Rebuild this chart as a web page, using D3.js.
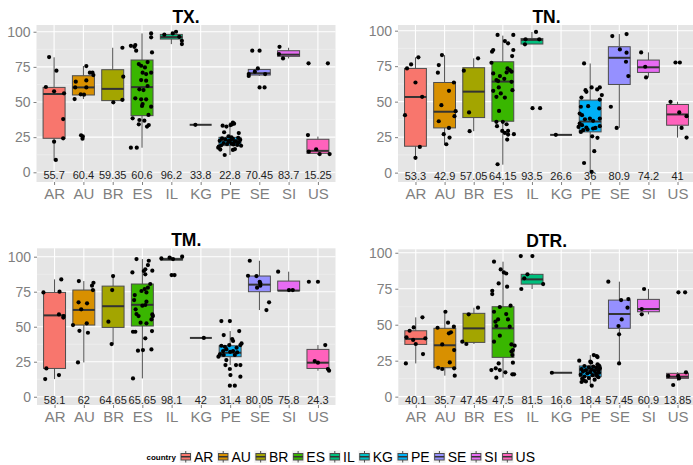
<!DOCTYPE html>
<html><head><meta charset="utf-8">
<script src="https://cdn.jsdelivr.net/npm/d3@7"></script>
<style>body{margin:0;background:#fff} text{font-family:"Liberation Sans",Arial,sans-serif}</style>
</head><body><svg id="c" width="693" height="465"></svg>
<script>
const countries = ["AR","AU","BR","ES","IL","KG","PE","SE","SI","US"];
const colors = ["#F8766D","#D89000","#A3A500","#39B600","#00BF7D","#00BFC4","#00B0F6","#9590FF","#E76BF3","#FF62BC"];
const panelTitles = ["TX.","TN.","TM.","DTR."];
const yTicks = [0,25,50,75,100];
const minorTicks = [12.5,37.5,62.5,87.5];

// median labels (also used as the median line)
const txMedians = [55.7,60.4,59.35,60.6,96.2,33.8,22.8,70.45,83.7,15.25];
const tnMedians = [53.3,42.9,57.05,64.15,93.5,26.6,36,80.9,74.2,41];
const tmMedians = [58.1,62,64.65,65.65,98.1,42,31.4,80.05,75.8,24.3];
const dtrMedians = [40.1,35.7,47.45,47.5,81.5,16.6,18.4,57.45,60.9,13.85];

// box stats: [lower whisker, q1, q3, upper whisker]
const txBoxes = [[8.3,24.2,60.4,81.8],[52.1,55,68.7,75.6],[49.8,51,73,88.6],[17.5,40.3,79.9,98.8],[91.2,94.8,98.1,100],[33.8,33.8,33.8,33.8],[12.3,19,24.9,35.5],[68.5,69.2,73.2,73.9],[81,82.5,86.5,88.6],[12.3,13.5,23.5,25.4]];
const tnBoxes = [[10.4,18.6,73.4,81.2],[19.8,31.5,63.5,82.8],[29.2,38.8,73.9,80.5],[5.6,36.2,78.1,96.5],[90.6,90.6,94.5,99.1],[26.6,26.6,26.6,26.6],[0.5,28.7,51.1,76.9],[31.5,62.1,88.7,97.6],[67.1,70.6,79.3,84.7],[24.7,33.4,48,49.9]];
const tmBoxes = [[12.6,20.2,74.5,83.8],[24.5,51.2,76.2,82.6],[37.6,49.5,79,86.2],[13.1,50.5,80.5,98.3],[97.6,97.6,98.8,100],[42,42,42,42],[22.6,28.6,36.4,46.9],[61.9,75,86.2,97.1],[75.7,75.7,82.6,89.3],[18.6,20.2,33.8,36.9]];
const dtrBoxes = [[23.1,36.3,45.8,55.1],[14.6,20.1,47.5,59],[36.6,37.7,57.9,61.8],[13.2,27.3,62.5,93.8],[74.8,78.2,85,85.6],[16.6,16.6,16.6,16.6],[7.6,13.9,21.3,28.9],[23.1,47.5,67.1,79.9],[57.2,59,67.6,74.8],[11.1,12.7,16.2,16.9]];

// jittered observations: [value, jitter as fraction of category step]
const txPoints = [
 [[82,-0.17],[72.3,0.08],[60.7,-0.28],[57.6,0],[56.2,0.34],[37.9,0.31],[24.2,0.31],[21.8,0],[8.8,0.06]],
 [[75.6,0.1],[70.9,0.22],[70.9,0.31],[69.2,0.34],[65.4,0.1],[64.5,-0.26],[60.4,-0.28],[60.4,0.1],[55.5,-0.09],[55.2,0.02],[52.1,-0.3],[26.3,-0.08],[25.5,-0.02],[23.9,-0.03]],
 [[88.6,0.33],[68,0.36],[51.6,0.33],[49.8,0.02]],
 [[98.8,0.31],[96,0.31],[90.5,-0.23],[90,-0.38],[89.3,-0.26],[86.5,-0.2],[85.3,0.34],[77,-0.11],[78.4,0.19],[75.8,-0.03],[74.6,0.1],[70.9,0.02],[70.9,0.31],[69.9,0.14],[65.6,-0.03],[65.2,0.14],[61.4,0.19],[58.5,0.05],[59,-0.09],[52.6,-0.23],[51.9,-0.03],[51.9,0.14],[48.6,0.02],[47.2,0],[46.7,0.31],[38.4,-0.32],[37.2,-0.09],[36.7,0.08],[40.8,0.22],[34.1,-0.11],[32.5,0.17],[33.6,0.23],[17.5,-0.38],[17.5,-0.18]],
 [[100,0.16],[98.8,0.05],[97.9,-0.24],[96.4,0.27],[93.6,0.36],[91.2,0.36]],
 [[33.8,-0.18]],
 [[12.3,-0.18],[15.9,0.1],[16.5,0.17],[17.5,-0.4],[18.2,-0.38],[18.9,0.38],[19.2,-0.3],[19.5,0.25],[20.1,-0.1],[20.5,0.05],[20.8,-0.22],[21.2,0.3],[21.5,0.15],[21.8,-0.05],[22.1,0.2],[22.4,-0.35],[22.7,0],[23.1,0.35],[23.4,-0.15],[23.8,0.1],[24.1,-0.27],[24.5,0.28],[24.9,0.05],[25.6,-0.05],[27.9,0.3],[28.5,-0.2],[32.5,-0.12],[33.2,-0.25],[33.6,0.02],[34.1,0.07],[34.6,0.14],[35.3,0.1],[16.2,-0.33],[19.8,0.12]],
 [[86.5,-0.24],[86.5,0.01],[73.9,-0.05],[71.6,-0.15],[69.9,0.2],[69.9,-0.36],[68.5,-0.36],[60.4,0.01],[60.4,0.18]],
 [[89.3,-0.31],[84.1,-0.33],[81,-0.19]],
 [[77.5,-0.32],[77.5,0.34],[26.5,-0.34],[16.4,-0.06],[14.7,-0.31],[13,0.06],[13,0.4]]
];
const tnPoints = [
 [[81.2,0.1],[76.2,-0.15],[73.4,-0.29],[63.5,0],[53.4,0.23],[40.5,-0.36],[18.1,0.15],[10.4,0]],
 [[82.8,-0.09],[75.8,-0.2],[70.4,-0.23],[63.5,0.32],[57.6,0.15],[47.5,-0.11],[43.3,0.38],[39.8,0.34],[36.2,-0.2],[31.5,0.15],[27.1,-0.03],[24.7,0.17],[20,0.06]],
 [[80.5,0.15],[71.8,-0.34],[42.4,-0.16],[29.2,-0.14]],
 [[97,-0.18],[97,0.36],[92.7,0.07],[91.1,0.18],[86.4,-0.33],[85.2,-0.37],[86.4,0.36],[82.1,0.32],[77.4,-0.39],[73.4,0.16],[72.2,0.24],[70.6,0.13],[69.9,-0.33],[68,-0.1],[71.1,0.3],[65.2,-0.22],[64.5,-0.16],[66.1,0.05],[64,0.3],[58.1,0.33],[57.6,-0.33],[60,-0.14],[55.8,-0.07],[53.4,-0.22],[52.9,0.07],[43.5,-0.13],[35.8,-0.22],[34.1,0.13],[35.8,0],[32.7,-0.2],[29.4,-0.02],[28,0.07],[29.4,0.18],[26.8,0.18],[27.1,0.38],[23.3,0.15],[5.9,-0.18]],
 [[93.9,-0.22],[90.4,-0.24],[99.1,0.14],[93.9,0.25],[45.4,0.02],[45.4,0.28]],
 [[26.6,-0.18]],
 [[76.9,-0.21],[58.1,-0.16],[56.9,-0.13],[60,0.33],[60,0.05],[58.6,0.24],[52.9,-0.3],[54.6,0.4],[51.5,0.33],[46.4,-0.32],[46.8,-0.07],[45.2,0.31],[41.6,-0.36],[40.5,-0.28],[37.6,-0.18],[38.1,-0.01],[36.5,0.1],[38.1,0.33],[34.6,-0.36],[33.4,-0.28],[31.8,-0.13],[32.2,-0.4],[31.1,0.1],[32.7,0.33],[29.9,-0.24],[30.4,-0.09],[31.5,0.18],[28.7,-0.32],[25.6,0.07],[24.5,0.25],[15.1,0.14],[6.8,-0.21],[0.5,0.05]],
 [[96.2,-0.24],[97.6,0.25],[86.8,0.02],[84.5,0.25],[78.1,0.23],[68,0.31],[46.4,-0.29],[31.5,-0.09]],
 [[84.7,-0.25],[74.6,-0.11],[67.1,-0.08]],
 [[77.6,-0.07],[77.6,0.08],[49.9,-0.24],[42.4,0.06],[39.8,0.31],[31.5,0.14],[24.7,0.31]]
];
const tmPoints = [
 [[83.8,0.23],[74.5,-0.38],[75,0.17],[58.8,0.15],[57.6,0.31],[56.5,0.3],[20.2,-0.28],[12.6,-0.32],[15.5,0.15]],
 [[82.6,-0.17],[81.4,0.33],[79.3,0.28],[76.2,0.31],[67.4,-0.18],[66.7,0.11],[62.4,-0.09],[51.2,-0.37],[52.4,0.1],[47.1,-0.15],[45.7,0.14],[24.5,-0.2]],
 [[86.2,0],[76.2,-0.03],[53.6,-0.16],[37.6,-0.05]],
 [[98.3,-0.2],[97.1,0.22],[94,0.19],[89.8,0.05],[91,0.1],[90,0.34],[88.8,-0.34],[87.4,0.1],[80.5,0.27],[77.9,0.19],[76.9,0.08],[75.5,-0.03],[74.5,0.14],[72.6,-0.26],[69,-0.28],[67.9,0.14],[65,0],[65.5,0.1],[62.4,-0.23],[58.8,0.34],[59,-0.2],[57.6,-0.13],[57.6,0.36],[55.2,0.31],[52.9,-0.06],[52.4,0.14],[46.4,-0.32],[46.4,-0.24],[46.9,0.33],[41.7,0.1],[32.9,-0.15],[33.3,0.02],[33.8,0.31],[13.1,-0.32]],
 [[98.8,-0.35],[99.3,-0.07],[98.3,0.05],[100,0.36],[86.9,0],[86.9,0.1]],
 [[42,0.1]],
 [[54,-0.3],[54,-0.01],[44,-0.22],[46.9,0.31],[41.2,0.07],[39.8,0.1],[36.9,-0.03],[38.1,0.39],[36.9,0.35],[36.4,-0.3],[35.7,-0.18],[34,-0.13],[35,0.22],[32.6,0.1],[32.6,-0.24],[32.1,0],[31.7,0.24],[30.2,-0.35],[29.8,0.16],[28.6,-0.4],[29.8,-0.22],[26.2,-0.13],[22.6,-0.16],[22.6,0.2],[22.6,0.35],[19.8,-0.01],[15.5,0.01],[14.3,0.35],[7.9,-0.01],[7.9,0.16]],
 [[97.1,-0.33],[86.4,-0.39],[86.2,-0.1],[82.1,0.01],[81,0.03],[79.3,0.03],[77.9,-0.08],[67.4,0.33],[61.9,0.24]],
 [[89.3,-0.36],[76.2,0.01],[76.2,0.14]],
 [[82.1,-0.31],[82.1,0],[36.9,0.25],[25.5,-0.11],[24.3,0],[19.8,0.34],[18.6,0.38]]
];
const dtrPoints = [
 [[55.1,0.23],[48.1,-0.07],[45.8,-0.21],[41.2,-0.32],[39.4,-0.09],[40.5,0.33],[36.6,0],[29.6,0.25],[23.1,-0.34]],
 [[59,0.02],[51.4,0.11],[47.9,-0.25],[48.6,0.31],[44.7,0.21],[44,0.14],[36.3,-0.09],[32.4,0.32],[23.8,0.17],[20.1,-0.23],[19.2,-0.09],[19.7,0.32],[14.6,0.34]],
 [[61.8,0.14],[57.2,-0.18],[38.2,-0.4],[36.6,-0.26]],
 [[93.8,-0.31],[88.4,-0.08],[86.3,0.03],[85.6,0.11],[78.7,-0.15],[76.4,0.14],[73.6,-0.37],[71.3,-0.37],[63.2,0.26],[62.3,-0.11],[59,-0.31],[57.4,0.11],[52.1,-0.26],[53.7,-0.17],[53.7,0.17],[49.1,-0.23],[48.6,0.23],[42.4,-0.11],[38.2,-0.31],[36.3,0.29],[35.4,0.4],[32.4,0.34],[31.3,0.29],[28.9,0.32],[23.1,-0.15],[23.6,0.34],[18.5,-0.4],[19.7,-0.25],[18.5,-0.11],[16.9,0.08],[13.2,-0.23],[15.5,0.32],[15.5,0.38]],
 [[97.7,-0.39],[97.7,0.01],[82.2,-0.27],[85,-0.16],[74.8,-0.37],[78.2,0.38]],
 [[16.6,-0.32]],
 [[28.9,0.12],[28.2,0.22],[27.5,0.25],[25,-0.38],[24.3,0],[23.8,0.03],[22.5,0.25],[21.5,0.3],[21.3,-0.2],[20.8,0.1],[20.4,-0.05],[20,0.2],[19.7,0.33],[19.2,-0.3],[18.8,0.05],[18.5,-0.15],[18.2,0.27],[17.8,0.15],[17.4,-0.25],[17,0],[16.6,0.3],[16.2,-0.1],[15.8,0.2],[15.3,-0.33],[14.9,0.08],[14.5,0.23],[14,-0.2],[13.5,0.28],[12.9,-0.05],[12.4,-0.28],[11.8,0.15],[11.3,-0.22],[10.6,-0.15],[10.2,-0.3],[7.6,0.05]],
 [[79.9,-0.38],[67.1,0.06],[67.8,0.31],[61.8,0.28],[53.7,0.08],[49.1,-0.03],[43.3,-0.01],[23.1,-0.01]],
 [[74.8,-0.15],[60.9,-0.23],[57.2,-0.23]],
 [[72.5,0.03],[72.5,0.26],[16.9,0.29],[14.4,-0.32],[14.4,0.02],[12.7,0.05],[8.1,-0.15]]
];

// layout (pixel frames of the four panels)
const frames = [
  {x0:36.5, x1:335.5, y0:25, y1:182, dom:[-6.9,104.8]},
  {x0:398, x1:695, y0:25, y1:182, dom:[-6.6,104.0]},
  {x0:37, x1:335.5, y0:248.3, y1:405, dom:[-5.9,106]},
  {x0:398.3, x1:695, y0:249.3, y1:405, dom:[-5.8,102.4]}
];
const medianSets = [txMedians, tnMedians, tmMedians, dtrMedians];
const boxSets = [txBoxes, tnBoxes, tmBoxes, dtrBoxes];
const pointSets = [txPoints, tnPoints, tmPoints, dtrPoints];

const svg = d3.select("#c");
const axisGrey = "#7f7f7f";

frames.forEach((f, pi) => {
  const g = svg.append("g");
  const x = d3.scalePoint().domain(countries).range([f.x0, f.x1]).padding(0.6);
  const y = d3.scaleLinear().domain(f.dom).range([f.y1, f.y0]);
  const step = x.step(), bw = step * 0.75;
  const meds = medianSets[pi], boxes = boxSets[pi], pts = pointSets[pi];

  g.append("rect").attr("x", f.x0).attr("y", f.y0).attr("width", f.x1 - f.x0).attr("height", f.y1 - f.y0).attr("fill", "#E5E5E5");
  g.selectAll(".mn").data(minorTicks).join("line")
    .attr("x1", f.x0).attr("x2", f.x1).attr("y1", d => y(d)).attr("y2", d => y(d))
    .attr("stroke", "#F2F2F2").attr("stroke-width", 0.6);
  g.selectAll(".mj").data(yTicks).join("line")
    .attr("x1", f.x0).attr("x2", f.x1).attr("y1", d => y(d)).attr("y2", d => y(d))
    .attr("stroke", "#fff").attr("stroke-width", 1.1);
  g.selectAll(".vx").data(countries).join("line")
    .attr("x1", d => x(d)).attr("x2", d => x(d)).attr("y1", f.y0).attr("y2", f.y1)
    .attr("stroke", "#fff").attr("stroke-width", 1.1);

  // boxes
  countries.forEach((c, i) => {
    const b = boxes[i], cx = x(c);
    const bg = g.append("g");
    bg.append("line").attr("x1", cx).attr("x2", cx).attr("y1", y(b[3])).attr("y2", y(b[2]))
      .attr("stroke", "#4d4d4d").attr("stroke-width", 1);
    bg.append("line").attr("x1", cx).attr("x2", cx).attr("y1", y(b[1])).attr("y2", y(b[0]))
      .attr("stroke", "#4d4d4d").attr("stroke-width", 1);
    bg.append("rect").attr("x", cx - bw / 2).attr("width", bw)
      .attr("y", y(b[2])).attr("height", Math.max(0, y(b[1]) - y(b[2])))
      .attr("fill", colors[i]).attr("stroke", "#4d4d4d").attr("stroke-width", 1);
    bg.append("line").attr("x1", cx - bw / 2).attr("x2", cx + bw / 2)
      .attr("y1", y(meds[i])).attr("y2", y(meds[i]))
      .attr("stroke", "#333").attr("stroke-width", 2);
  });

  // jittered points
  countries.forEach((c, i) => {
    g.selectAll(null).data(pts[i]).join("circle")
      .attr("cx", d => x(c) + d[1] * step).attr("cy", d => y(d[0]))
      .attr("r", 2.1).attr("fill", "#000");
  });

  // median labels
  g.selectAll(".ml").data(countries).join("text")
    .attr("x", d => x(d)).attr("y", y(0) + 7)
    .attr("text-anchor", "middle").attr("font-size", 11).attr("fill", "#222")
    .text((d, i) => String(meds[i]));

  // axes
  const ya = g.append("g").attr("transform", `translate(${f.x0},0)`)
    .call(d3.axisLeft(y).tickValues(yTicks).tickSize(3).tickPadding(3));
  const xa = g.append("g").attr("transform", `translate(0,${f.y1})`)
    .call(d3.axisBottom(x).tickSize(3).tickPadding(3));
  [ya, xa].forEach(a => {
    a.select(".domain").remove();
    a.selectAll(".tick line").attr("stroke", axisGrey);
    a.selectAll(".tick text").attr("fill", axisGrey).attr("font-family", "Liberation Sans, Arial, sans-serif");
  });
  ya.selectAll(".tick text").attr("font-size", 14);
  xa.selectAll(".tick text").attr("font-size", 15);

  g.append("text").attr("x", (f.x0 + f.x1) / 2).attr("y", f.y0 - 2)
    .attr("text-anchor", "middle").attr("font-size", 17.5).attr("font-weight", "bold")
    .attr("fill", "#000").text(panelTitles[pi]);
});

// legend
const lg = svg.append("g");
lg.append("text").attr("x", 146.5).attr("y", 460).attr("font-size", 8).attr("font-weight", "bold").text("country");
let lx = 179.5;
const ky = 450.5, ks = 12.5;
countries.forEach((c, i) => {
  const k = lg.append("g");
  k.append("rect").attr("x", lx).attr("y", ky).attr("width", ks).attr("height", ks).attr("fill", "#F2F2F2");
  k.append("line").attr("x1", lx + ks / 2).attr("x2", lx + ks / 2).attr("y1", ky + 0.5).attr("y2", ky + ks - 0.5).attr("stroke", "#4d4d4d");
  k.append("rect").attr("x", lx + 1.5).attr("y", ky + 3).attr("width", ks - 3).attr("height", ks - 6)
    .attr("fill", colors[i]).attr("stroke", "#4d4d4d").attr("stroke-width", 1);
  k.append("line").attr("x1", lx + 1.5).attr("x2", lx + ks - 1.5).attr("y1", ky + ks / 2).attr("y2", ky + ks / 2).attr("stroke", "#333").attr("stroke-width", 1.5);
  const t = lg.append("text").attr("x", lx + ks + 2).attr("y", 461.5).attr("font-size", 14).attr("fill", "#000").text(c);
  lx = lx + ks + 2 + t.node().getComputedTextLength() + 3.5;
});
</script></body></html>
